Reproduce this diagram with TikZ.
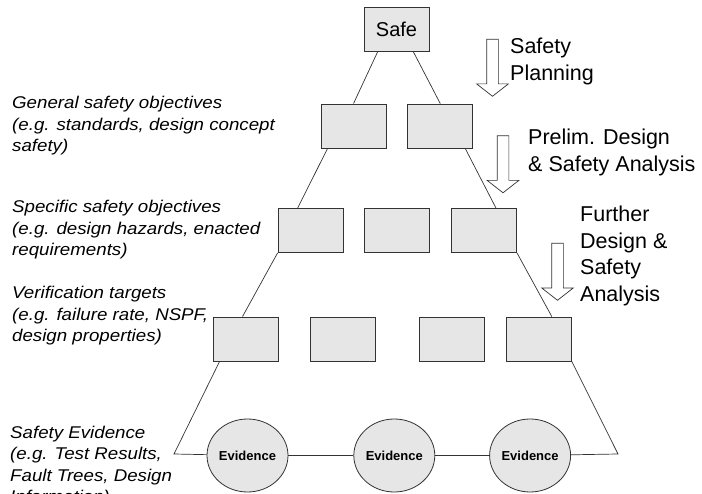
\documentclass[tikz,border=0pt]{standalone}
\usepackage{fontspec}
\setmainfont{Liberation Sans}
\newfontfamily\lvlfont[FakeStretch=1.1]{Liberation Sans}
\usepackage{tikz}
\usetikzlibrary{shapes.geometric,shapes.arrows,positioning}
\definecolor{hiergray}{HTML}{E6E6E6}
\definecolor{hierline}{HTML}{333333}
\tikzset{
  goal/.style={rectangle,draw=hierline,fill=hiergray,line width=0.8pt,minimum width=65pt,minimum height=44pt,inner sep=0pt},
  evid/.style={ellipse,draw=hierline,fill=hiergray,line width=0.8pt,minimum width=81pt,minimum height=73pt,inner sep=0pt,font=\fontsize{13}{15}\selectfont\bfseries},
  lvl/.style={anchor=base west,align=left,inner sep=0pt,font=\lvlfont\fontsize{17}{21.5}\selectfont\itshape},
  phase/.style={anchor=base west,align=left,inner sep=0pt,font=\fontsize{21.5}{26.5}\selectfont},
  flowarrow/.style={single arrow,draw=hierline,fill=white,line width=0.7pt,shape border rotate=270,minimum height=57pt,minimum width=31pt,single arrow head extend=10pt,single arrow tip angle=104,inner sep=5.5pt},
  edgeline/.style={draw=hierline,line width=0.7pt},
}
\begin{document}
\begin{tikzpicture}[x=1pt,y=-1pt]
  \useasboundingbox (0,0) rectangle (702,494);
  % the goal tree
  \node[goal,font=\fontsize{20}{24}\selectfont] (safe) at (396.5,29.5) {Safe};
  \node[goal] (g1) at (353.5,126) {};
  \node[goal,right=21pt of g1] (g2) {};
  \node[goal] (s1) at (310.5,230.5) {};
  \node[goal,right=21pt of s1] (s2) {};
  \node[goal,right=21pt of s2] (s3) {};
  \node[goal] (v1) at (245.5,339) {};
  \node[goal,right=32pt of v1] (v2) {};
  \node[goal,right=43pt of v2] (v3) {};
  \node[goal,right=21pt of v3] (v4) {};
  \node[evid] (e1) at (247.5,455.5) {Evidence};
  \node[evid,right=65pt of e1] (e2) {Evidence};
  \node[evid,right=54pt of e2] (e3) {Evidence};
  \coordinate (endl) at (174,454);
  \coordinate (endr) at (618,454);
  \draw[edgeline] ([xshift=14pt]safe.south west) -- (g1.north);
  \draw[edgeline] ([xshift=-16pt]safe.south east) -- (g2.north);
  \draw[edgeline] ([xshift=7pt]g1.south west) -- ([xshift=20pt]s1.north west);
  \draw[edgeline] ([xshift=-8pt]g2.south east) -- ([xshift=-21pt]s3.north east);
  \draw[edgeline] (s1.south west) -- ([xshift=-3pt]v1.north);
  \draw[edgeline] (s3.south east) -- ([xshift=-20pt]v4.north east);
  \draw[edgeline] ([xshift=7pt]v1.south west) -- (endl) -- (e1);
  \draw[edgeline] (e1) -- (e2);
  \draw[edgeline] (e2) -- (e3);
  \draw[edgeline] (e3) -- (endr) -- (v4.south east);
  % level descriptions (placed by the baseline of their last line)
  \node[lvl] (tgen) at (12,152) {General safety objectives\\(e.g. standards, design concept\\safety)};
  \node[lvl] (tspec) at (12,256) {Specific safety objectives\\(e.g. design hazards, enacted\\requirements)};
  \node[lvl] (tver) at (12,342) {Verification targets\\(e.g. failure rate, NSPF,\\design properties)};
  \node[lvl] (tevid) at (10,502.5) {Safety Evidence\\(e.g. Test Results,\\Fault Trees, Design\\Information)};
  % process arrows
  \node[flowarrow] (a1) at (492.5,65.5) {};
  \node[flowarrow] (a2) at (503,162) {};
  \node[flowarrow] (a3) at (557.5,269.5) {};
  \node[phase] (tplan) at (510,80.5) {Safety\\Planning};
  \node[phase] (tprelim) at (528,171.5) {Prelim. Design\\\& Safety Analysis};
  \node[phase] (tfurther) at (580,301.5) {Further\\Design \&\\Safety\\Analysis};
\end{tikzpicture}
\end{document}
